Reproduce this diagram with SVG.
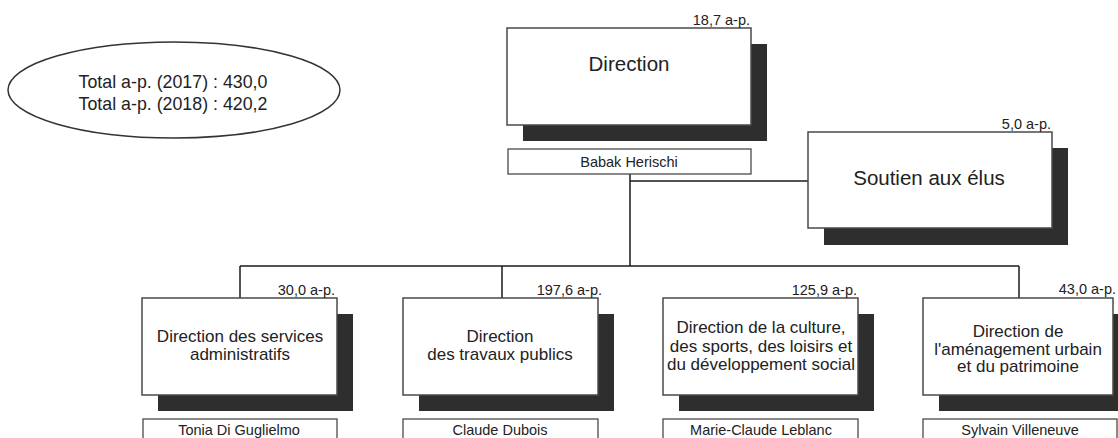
<svg xmlns="http://www.w3.org/2000/svg" width="1118" height="438" viewBox="0 0 1118 438">
<style>
.bg{fill:#fff}
.shadow{fill:#2e2e2e}
.box{fill:#fff;stroke:#4a4a4a;stroke-width:1.5}
.name{fill:#fff;stroke:#4a4a4a;stroke-width:1.3}
.t{font-family:"Liberation Sans",Arial,sans-serif;fill:#222;text-anchor:middle}
.big{font-size:20.5px}
.mid{font-size:17px}
.lab{font-size:14.5px;text-anchor:end}
.nm{font-size:14.5px}
.tot{font-size:17.8px}
.conn{stroke:#1a1a1a;stroke-width:1.5;fill:none}
</style>
<rect class="bg" x="0" y="0" width="1118" height="438"/>

<g id="totals">
<ellipse cx="174" cy="90" rx="166" ry="48" fill="#fff" stroke="#333" stroke-width="1.5"/>
<text class="t tot" x="173" y="88">Total a-p. (2017) : 430,0</text>
<text class="t tot" x="173" y="110">Total a-p. (2018) : 420,2</text>
</g>

<g id="connectors">
<path class="conn" d="M630 174 V266"/>
<path class="conn" d="M630 181 H808"/>
<path class="conn" d="M240 266 H1019"/>
<path class="conn" d="M240 266 V298"/>
<path class="conn" d="M502 266 V298"/>
<path class="conn" d="M1019 266 V298"/>
</g>

<g id="direction">
<rect class="shadow" x="523" y="44" width="244" height="97"/>
<rect class="box" x="507" y="28" width="244" height="97"/>
<text class="t big" x="629" y="71">Direction</text>
<text class="t lab" x="750" y="25">18,7 a-p.</text>
<rect class="name" x="508" y="149" width="243" height="25"/>
<text class="t nm" x="629" y="167">Babak Herischi</text>
</g>

<g id="soutien">
<rect class="shadow" x="824" y="148" width="244" height="97"/>
<rect class="box" x="808" y="132" width="244" height="96"/>
<text class="t big" x="929" y="185">Soutien aux élus</text>
<text class="t lab" x="1051" y="129">5,0 a-p.</text>
</g>

<g id="dsa">
<rect class="shadow" x="158" y="314" width="195" height="97"/>
<rect class="box" x="142" y="298" width="195" height="97"/>
<text class="t mid" x="240" y="342">Direction des services</text>
<text class="t mid" x="240" y="360">administratifs</text>
<text class="t lab" x="335" y="295">30,0 a-p.</text>
<rect class="name" x="143" y="419" width="194" height="25"/>
<text class="t nm" x="239" y="435">Tonia Di Guglielmo</text>
</g>

<g id="dtp">
<rect class="shadow" x="419" y="314" width="195" height="97"/>
<rect class="box" x="403" y="298" width="195" height="97"/>
<text class="t mid" x="500" y="342">Direction</text>
<text class="t mid" x="500" y="360">des travaux publics</text>
<text class="t lab" x="602" y="295">197,6 a-p.</text>
<rect class="name" x="403" y="419" width="195" height="25"/>
<text class="t nm" x="500" y="435">Claude Dubois</text>
</g>

<g id="dcsl">
<rect class="shadow" x="679" y="314" width="195" height="97"/>
<rect class="box" x="663" y="298" width="195" height="97"/>
<text class="t mid" x="761" y="333">Direction de la culture,</text>
<text class="t mid" x="761" y="352">des sports, des loisirs et</text>
<text class="t mid" x="761" y="370">du développement social</text>
<text class="t lab" x="857" y="295">125,9 a-p.</text>
<rect class="name" x="663" y="419" width="195" height="25"/>
<text class="t nm" x="761" y="435">Marie-Claude Leblanc</text>
</g>

<g id="daup">
<rect class="shadow" x="939" y="314" width="191" height="97"/>
<rect class="box" x="923" y="298" width="190" height="97"/>
<text class="t mid" x="1018" y="337">Direction de</text>
<text class="t mid" x="1018" y="355">l'aménagement urbain</text>
<text class="t mid" x="1018" y="372">et du patrimoine</text>
<text class="t lab" x="1116" y="294">43,0 a-p.</text>
<rect class="name" x="923" y="419" width="194" height="25"/>
<text class="t nm" x="1020" y="435">Sylvain Villeneuve</text>
</g>
</svg>
